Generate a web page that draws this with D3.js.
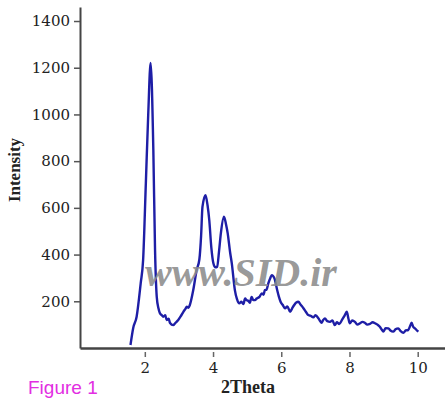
<!DOCTYPE html>
<html lang="en">
<head>
  <meta charset="UTF-8">
  <title>XRD pattern</title>
  <script src="https://d3js.org/d3.v7.min.js"></script>
  <style>
    body {
      margin: 0;
      background: white;
    }
    .tick text {
      font-family: "DejaVu Serif", serif;
      font-size: 15px;
      fill: #222;
    }
  </style>
</head>
<body>
  <div id="chart"></div>
  <script>
    // values
    const twoTheta = [1.58, 1.66, 1.76, 1.88, 1.95, 2.03, 2.10, 2.17, 2.25, 2.30, 2.35, 2.40, 2.44, 2.50, 2.54,
      2.60, 2.64, 2.70, 2.74, 2.83, 2.90, 2.98, 3.05, 3.13, 3.20, 3.23, 3.28, 3.32, 3.42, 3.52, 3.60, 3.65,
      3.69, 3.78, 3.84, 3.89, 3.95, 4.01, 4.07, 4.12, 4.18, 4.23, 4.32, 4.38, 4.43, 4.50, 4.55, 4.64, 4.70,
      4.77, 4.83, 4.89, 4.94, 4.98, 5.03, 5.08, 5.13, 5.18, 5.23, 5.28, 5.36, 5.43, 5.48, 5.52, 5.57, 5.62,
      5.68, 5.72, 5.80, 5.88, 5.93, 5.98, 6.04, 6.11, 6.18, 6.26, 6.32, 6.38, 6.44, 6.50, 6.57, 6.65, 6.72,
      6.79, 6.86, 6.94, 7.00, 7.09, 7.14, 7.18, 7.23, 7.28, 7.35, 7.43, 7.50, 7.57, 7.63, 7.70, 7.78, 7.86,
      7.92, 7.97, 8.01, 8.08, 8.16, 8.23, 8.31, 8.38, 8.45, 8.52, 8.60, 8.68, 8.75, 8.82, 8.89, 8.95, 8.99,
      9.06, 9.14, 9.20, 9.28, 9.35, 9.43, 9.50, 9.58, 9.65, 9.72, 9.78, 9.82, 9.87, 9.92, 9.97, 10.02];
    const intensity = [13, 86, 134, 278, 376, 705, 1000, 1220, 847, 419, 219, 170, 150, 140, 134,
      140, 120, 125, 107, 98, 108, 120, 135, 155, 170, 177, 172, 184, 248, 334, 380, 480,
      604, 654, 610, 547, 430, 363, 345, 348, 420, 492, 562, 530, 491, 410, 362, 248, 210,
      191, 198, 188, 212, 205, 202, 194, 219, 205, 205, 212, 219, 234, 228, 248, 250, 277,
      300, 312, 298, 248, 220, 198, 185, 170, 178, 155, 170, 184, 195, 198, 185, 170, 155,
      141, 138, 131, 140, 127, 115, 108, 120, 127, 115, 112, 118, 98, 110, 103, 120, 140,
      155, 125, 106, 118, 112, 100, 106, 112, 108, 100, 103, 110, 106, 100, 91, 78, 70,
      85, 84, 75, 70, 80, 84, 72, 65, 75, 77, 95, 108, 90, 84, 76, 70];
    const xTicks = [2, 4, 6, 8, 10];
    const yTicks = [200, 400, 600, 800, 1000, 1200, 1400];

    const width = 445, height = 404;
    const left = 80, bottom = 348;

    const svg = d3.select("#chart").append("svg")
      .attr("width", width)
      .attr("height", height);

    const x = d3.scaleLinear().domain([0.1, 10.8]).range([left, 445]);
    const y = d3.scaleLinear().domain([0, 1460]).range([bottom, 7]);

    const data = twoTheta.map((t, i) => [t, intensity[i]]);

    const line = d3.line()
      .x(d => x(d[0]))
      .y(d => y(d[1]))
      .curve(d3.curveMonotoneX);

    svg.append("path")
      .datum(data)
      .attr("fill", "none")
      .attr("stroke", "#1e1ea6")
      .attr("stroke-width", 2.4)
      .attr("stroke-linejoin", "round")
      .attr("d", line);

    // y axis
    svg.append("g")
      .attr("transform", `translate(${left},0)`)
      .call(d3.axisLeft(y).tickValues(yTicks).tickFormat(d3.format("d")).tickSize(6).tickSizeOuter(0).tickPadding(4))
      .call(g => g.select(".domain").attr("stroke", "#444").attr("stroke-width", 2))
      .call(g => g.selectAll(".tick line").attr("stroke", "#555").attr("stroke-width", 1.5));

    // x axis, ticks sit a little under the line
    svg.append("g")
      .attr("transform", `translate(0,${bottom})`)
      .call(d3.axisBottom(x).tickValues(xTicks).tickFormat(d3.format("d")).tickSize(0).tickSizeOuter(0))
      .call(g => g.select(".domain").attr("stroke", "#444").attr("stroke-width", 2.5))
      .call(g => g.selectAll(".tick line").attr("y1", 4).attr("y2", 9).attr("stroke", "#666").attr("stroke-width", 1.5))
      .call(g => g.selectAll(".tick text").attr("y", 14));

    svg.append("text")
      .attr("transform", "translate(20,170) rotate(-90)")
      .attr("text-anchor", "middle")
      .style("font-family", "Liberation Serif, serif")
      .style("font-weight", "bold")
      .style("font-size", "17px")
      .attr("fill", "#222")
      .text("Intensity");

    svg.append("text")
      .attr("x", 248)
      .attr("y", 393)
      .attr("text-anchor", "middle")
      .style("font-family", "Liberation Serif, serif")
      .style("font-weight", "bold")
      .style("font-size", "18px")
      .attr("fill", "#222")
      .text("2Theta");

    svg.append("text")
      .attr("x", 28)
      .attr("y", 394)
      .style("font-family", "Liberation Sans, Arial, sans-serif")
      .style("font-size", "19px")
      .attr("fill", "#e22ee2")
      .text("Figure 1");

    // watermark
    svg.append("text")
      .attr("x", 145)
      .attr("y", 286)
      .style("font-family", "Liberation Serif, serif")
      .style("font-weight", "bold")
      .style("font-style", "italic")
      .style("font-size", "40px")
      .attr("fill", "#8c8c8c")
      .attr("fill-opacity", 0.9)
      .text("www.SID.ir");
  </script>
</body>
</html>
